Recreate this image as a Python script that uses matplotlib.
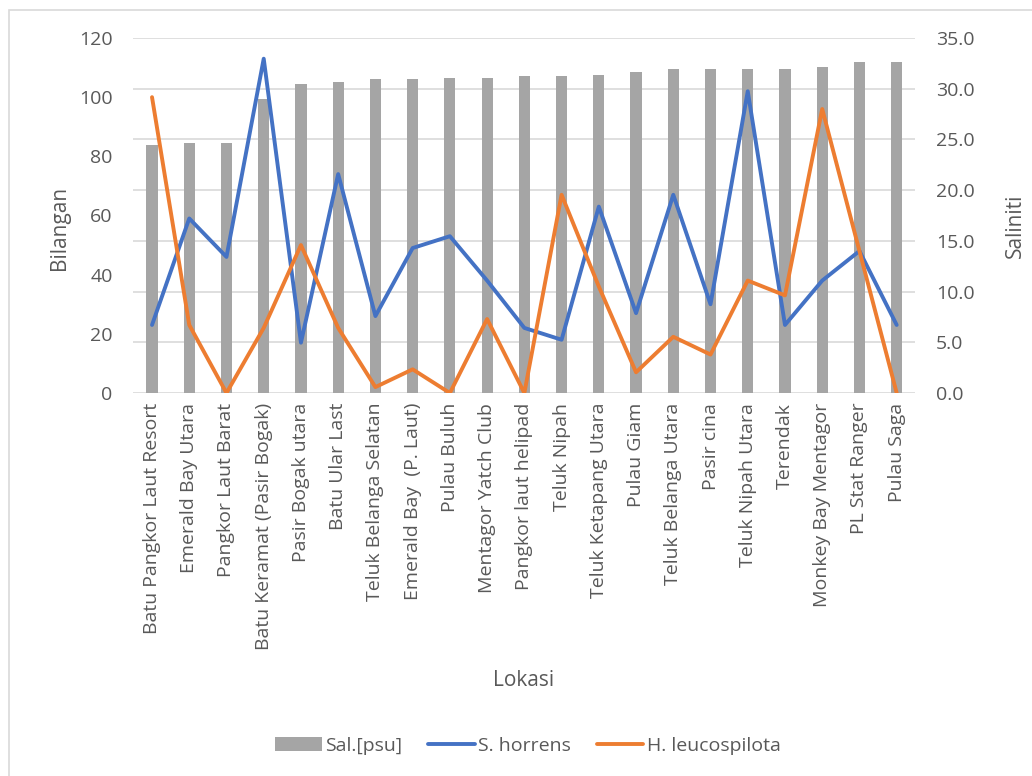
import matplotlib.pyplot as plt
import numpy as np
from matplotlib.patches import Rectangle

plt.rcParams['font.family'] = ['Open Sans', 'DejaVu Sans']

lokasi = [
    "Batu Pangkor Laut Resort", "Emerald Bay Utara", "Pangkor Laut Barat",
    "Batu Keramat (Pasir Bogak)", "Pasir Bogak utara", "Batu Ular Last",
    "Teluk Belanga Selatan", "Emerald Bay  (P. Laut)", "Pulau Buluh",
    "Mentagor Yatch Club", "Pangkor laut helipad", "Teluk Nipah",
    "Teluk Ketapang Utara", "Pulau Giam", "Teluk Belanga Utara",
    "Pasir cina", "Teluk Nipah Utara", "Terendak", "Monkey Bay Mentagor",
    "PL Stat Ranger", "Pulau Saga",
]
salinity = [24.5, 24.6, 24.6, 29.0, 30.5, 30.7, 31.0, 31.0, 31.1, 31.1, 31.3,
            31.3, 31.4, 31.6, 31.9, 31.9, 31.9, 31.9, 32.1, 32.6, 32.6]
s_horrens = [23, 59, 46, 113, 17, 74, 26, 49, 53, 38, 22,
             18, 63, 27, 67, 30, 102, 23, 38, 48, 23]
h_leucospilota = [100, 23, 0, 22, 50, 22, 2, 8, 0, 25, 0,
                  67, 36, 7, 19, 13, 38, 33, 96, 48, 0]

txt = "#595959"
fig = plt.figure(figsize=(10.32, 7.76), dpi=100)
ax = fig.add_axes([133.4 / 1032, 1 - 393 / 776, (915.3 - 133.4) / 1032, (393 - 38) / 776])
ax2 = ax.twinx()

x = np.arange(len(lokasi))
b = ax2.bar(x, salinity, width=0.3, color="#a5a5a5", label="Sal.[psu]", zorder=2)
ax2.set_ylim(0, 35)
ax2.set_yticks(np.arange(0, 36, 5))
ax2.set_yticklabels([f"{v:.1f}" for v in np.arange(0, 36, 5)])
ax2.grid(axis="y", color="#d9d9d9", linewidth=1.2, zorder=0)
ax2.set_axisbelow(True)

l1, = ax.plot(x, s_horrens, color="#4472c4", linewidth=2.8, label="S. horrens",
              solid_joinstyle="round", solid_capstyle="round")
l2, = ax.plot(x, h_leucospilota, color="#ed7d31", linewidth=2.8, label="H. leucospilota",
              solid_joinstyle="round", solid_capstyle="round")
ax.set_ylim(0, 120)
ax.set_yticks(range(0, 121, 20))
ax.set_xlim(-0.5, len(lokasi) - 0.5)
ax.set_xticks(x)
ax.set_xticklabels(lokasi, rotation=90)
ax.set_zorder(ax2.get_zorder() + 1)
ax.patch.set_visible(False)

for a in (ax, ax2):
    for s in a.spines.values():
        s.set_visible(False)
    a.tick_params(length=0, labelsize=14, colors=txt)
ax.tick_params(axis="y", pad=15)
ax2.tick_params(axis="y", pad=15)
ax.tick_params(axis="x", pad=7)

ax.set_ylabel("Bilangan", fontsize=15, color=txt)
ax.yaxis.set_label_coords(-0.081, 0.465)
ax2.set_ylabel("Saliniti", fontsize=15, color=txt)
ax2.yaxis.set_label_coords(1.1147, 0.47)
fig.text(524 / 1032, 1 - 681 / 776, "Lokasi", fontsize=15, color=txt, ha="center", va="center")

fig.legend([b, l1, l2], ["Sal.[psu]", "S. horrens", "H. leucospilota"],
           loc="center", bbox_to_anchor=(528 / 1032, 1 - 746 / 776), ncol=3,
           frameon=False, fontsize=14, labelcolor=txt, handlelength=2.4,
           columnspacing=1.3, handletextpad=0.2)

fig.patches.append(Rectangle((9 / 1032, -0.1), 1.2, 1 - 10 / 776 + 0.1,
                             transform=fig.transFigure, fill=False,
                             edgecolor="#d9d9d9", linewidth=1.2))

fig.savefig("out.png", dpi=100)
